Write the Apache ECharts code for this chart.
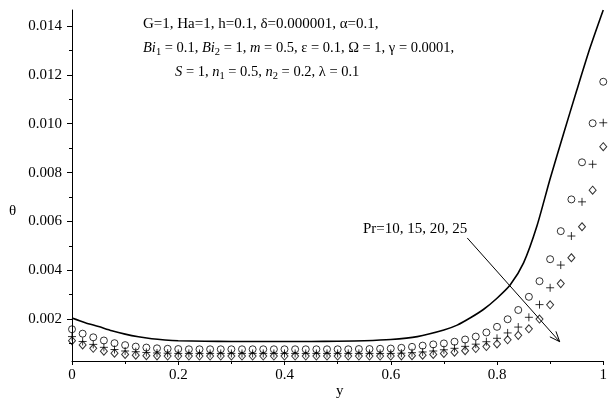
<!DOCTYPE html>
<html>
<head>
<meta charset="utf-8">
<script src="https://cdn.jsdelivr.net/npm/echarts@6/dist/echarts.min.js"></script>
<style>
html, body { margin: 0; padding: 0; background: #fff; }
#chart { width: 610px; height: 401px; }
</style>
</head>
<body>
<div id="chart"></div>
<script>
// Temperature profile theta(y): solid curve Pr=10, markers Pr=15, 20, 25
const curveY = [0, 0.025, 0.05, 0.075, 0.1, 0.125, 0.15, 0.175, 0.2, 0.25, 0.3, 0.35, 0.4, 0.45, 0.5,
  0.55, 0.6, 0.65, 0.7, 0.725, 0.75, 0.775, 0.8, 0.825, 0.85, 0.875, 0.9, 0.925, 0.95, 0.975, 1.0];
const thetaPr10 = [0.00204, 0.00185, 0.00169, 0.00152, 0.00138, 0.00127, 0.00119, 0.00114, 0.00111, 0.00109,
  0.00108, 0.00108, 0.00108, 0.00108, 0.00109, 0.00111, 0.00116, 0.00128, 0.00155, 0.00175, 0.00205, 0.00240,
  0.00285, 0.00340, 0.00430, 0.00580, 0.00775, 0.00957, 0.01136, 0.01310, 0.01466];

const pointY = [0, 0.02, 0.04, 0.06, 0.08, 0.1, 0.12, 0.14, 0.16, 0.18, 0.2, 0.22, 0.24, 0.26, 0.28, 0.3,
  0.32, 0.34, 0.36, 0.38, 0.4, 0.42, 0.44, 0.46, 0.48, 0.5, 0.52, 0.54, 0.56, 0.58, 0.6, 0.62, 0.64, 0.66,
  0.68, 0.7, 0.72, 0.74, 0.76, 0.78, 0.8, 0.82, 0.84, 0.86, 0.88, 0.9, 0.92, 0.94, 0.96, 0.98, 1.0];
const thetaPr15 = [0.00158, 0.00140, 0.00125, 0.00112, 0.00101, 0.00093, 0.00087, 0.00083, 0.00080, 0.00078,
  0.00077, 0.00076, 0.00076, 0.00076, 0.00076, 0.00076, 0.00076, 0.00076, 0.00076, 0.00076, 0.00076, 0.00076,
  0.00076, 0.00076, 0.00076, 0.00076, 0.00076, 0.00077, 0.00077, 0.00078, 0.00079, 0.00082, 0.00086, 0.00091,
  0.00096, 0.00100, 0.00107, 0.00116, 0.00128, 0.00145, 0.00168, 0.00199, 0.00237, 0.00291, 0.00355, 0.00445,
  0.00560, 0.00690, 0.00842, 0.01002, 0.01172];
const thetaPr20 = [0.00128, 0.00108, 0.00096, 0.00084, 0.00075, 0.00069, 0.00066, 0.00063, 0.00061, 0.00060,
  0.00059, 0.00059, 0.00059, 0.00059, 0.00059, 0.00059, 0.00059, 0.00059, 0.00059, 0.00059, 0.00059, 0.00059,
  0.00059, 0.00059, 0.00059, 0.00059, 0.00059, 0.00059, 0.00059, 0.00059, 0.00059, 0.00060, 0.00062, 0.00065,
  0.00069, 0.00074, 0.00080, 0.00088, 0.00097, 0.00107, 0.00121, 0.00143, 0.00167, 0.00207, 0.00259, 0.00328,
  0.00421, 0.00540, 0.00680, 0.00834, 0.01004];
const thetaPr25 = [0.00111, 0.00094, 0.00080, 0.00068, 0.00060, 0.00055, 0.00052, 0.00050, 0.00049, 0.00048,
  0.00048, 0.00048, 0.00048, 0.00048, 0.00048, 0.00048, 0.00048, 0.00048, 0.00048, 0.00048, 0.00048, 0.00048,
  0.00048, 0.00048, 0.00048, 0.00048, 0.00048, 0.00048, 0.00048, 0.00048, 0.00048, 0.00049, 0.00050, 0.00052,
  0.00055, 0.00059, 0.00064, 0.00070, 0.00079, 0.00087, 0.00098, 0.00115, 0.00133, 0.00160, 0.00200, 0.00258,
  0.00345, 0.00451, 0.00578, 0.00728, 0.00906];

const yTickValues = [0.002, 0.004, 0.006, 0.008, 0.010, 0.012, 0.014];
const yMinorTickValues = [0.001, 0.003, 0.005, 0.007, 0.009, 0.011, 0.013];
const yRange = [0.00028, 0.01466];

// arrow pointing in the direction of increasing Pr (data coordinates)
const arrowFrom = [0.744, 0.00532];
const arrowTo = [0.918, 0.00107];

const FONT = 'Liberation Serif';
const zip = (xs, ys) => xs.map((x, i) => [x, ys[i]]);

const chart = echarts.init(document.getElementById('chart'), null, { renderer: 'canvas' });

const markerStyle = { color: 'none', borderColor: '#000', borderWidth: 1 };

const option = {
  animation: false,
  backgroundColor: '#fff',
  grid: { left: 72, right: 3, top: 10, bottom: 40, containLabel: false },
  xAxis: {
    type: 'value', min: 0, max: 1, interval: 0.2,
    axisLine: { onZero: false, lineStyle: { color: '#000', width: 1 } },
    axisTick: { show: true, length: 4, inside: false, lineStyle: { color: '#000' } },
    minorTick: { show: true, splitNumber: 2, length: 3, lineStyle: { color: '#000' } },
    splitLine: { show: false },
    axisLabel: { color: '#000', fontFamily: FONT, fontSize: 15, margin: 7,
      formatter: v => (v === 0 ? '0' : v === 1 ? '1' : v.toFixed(1)) }
  },
  yAxis: [
    {
      type: 'value', min: yRange[0], max: yRange[1],
      axisLine: { show: true, onZero: false, lineStyle: { color: '#000', width: 1 } },
      axisTick: { show: true, length: 5, customValues: yTickValues, lineStyle: { color: '#000' } },
      splitLine: { show: false },
      axisLabel: { color: '#000', fontFamily: FONT, fontSize: 15, margin: 10,
        customValues: yTickValues, formatter: v => v.toFixed(3) }
    },
    {
      type: 'value', min: yRange[0], max: yRange[1], position: 'left',
      axisLine: { show: false },
      axisTick: { show: true, length: 3, customValues: yMinorTickValues, lineStyle: { color: '#000' } },
      splitLine: { show: false },
      axisLabel: { show: false, customValues: yMinorTickValues }
    }
  ],
  series: [
    {
      name: 'Pr=10', type: 'line', data: zip(curveY, thetaPr10), smooth: 0.25,
      showSymbol: false, lineStyle: { color: '#000', width: 1.6 }, z: 3
    },
    {
      name: 'Pr=15', type: 'scatter', data: zip(pointY, thetaPr15),
      symbol: 'circle', symbolSize: 7, itemStyle: markerStyle
    },
    {
      name: 'Pr=20', type: 'scatter', data: zip(pointY, thetaPr20),
      symbol: 'path://M0,5L10,5M5,0L5,10', symbolSize: 8, itemStyle: markerStyle
    },
    {
      name: 'Pr=25', type: 'scatter', data: zip(pointY, thetaPr25),
      symbol: 'diamond', symbolSize: [7, 8], itemStyle: markerStyle
    }
  ]
};
chart.setOption(option);

// annotations: parameter block, axis names, Pr label and arrow
const p0 = chart.convertToPixel({ gridIndex: 0 }, arrowFrom);
const p1 = chart.convertToPixel({ gridIndex: 0 }, arrowTo);
const ang = Math.atan2(p1[1] - p0[1], p1[0] - p0[0]);
const headLen = 11, headAng = 0.38;
const h1 = [p1[0] - headLen * Math.cos(ang - headAng), p1[1] - headLen * Math.sin(ang - headAng)];
const h2 = [p1[0] - headLen * Math.cos(ang + headAng), p1[1] - headLen * Math.sin(ang + headAng)];

const rich = {
  n: { fontFamily: FONT, fontSize: 14.5, lineHeight: 19, color: '#000' },
  i: { fontFamily: FONT, fontSize: 14.5, lineHeight: 19, fontStyle: 'italic', color: '#000' },
  s: { fontFamily: FONT, fontSize: 10.5, lineHeight: 11, verticalAlign: 'bottom', color: '#000' }
};

chart.setOption({
  graphic: [
    { type: 'text', left: 143, top: 17,
      style: { text: 'G=1, Ha=1, h=0.1, δ=0.000001, α=0.1,', font: '15px "Liberation Serif"', fill: '#000' } },
    { type: 'text', left: 143, top: 41,
      style: { text: '{i|Bi}{s|1}{n| = 0.1, }{i|Bi}{s|2}{n| = 1, }{i|m}{n| = 0.5, ε = 0.1, Ω = 1, γ = 0.0001,}', rich: rich } },
    { type: 'text', left: 175, top: 65,
      style: { text: '{i|S}{n| = 1, }{i|n}{s|1}{n| = 0.5, }{i|n}{s|2}{n| = 0.2, λ = 0.1}', rich: rich } },
    { type: 'text', left: 363, top: 222,
      style: { text: 'Pr=10, 15, 20, 25', font: '15px "Liberation Serif"', fill: '#000' } },
    { type: 'text', left: 9, top: 204,
      style: { text: 'θ', font: '15px "Liberation Serif"', fill: '#000' } },
    { type: 'text', left: 336, top: 384,
      style: { text: 'y', font: '15px "Liberation Serif"', fill: '#000' } },
    { type: 'polyline', shape: { points: [p0, p1] }, style: { stroke: '#000', lineWidth: 1, fill: null } },
    { type: 'polyline', shape: { points: [h1, p1, h2] }, style: { stroke: '#000', lineWidth: 1, fill: null } }
  ]
});
</script>
</body>
</html>
